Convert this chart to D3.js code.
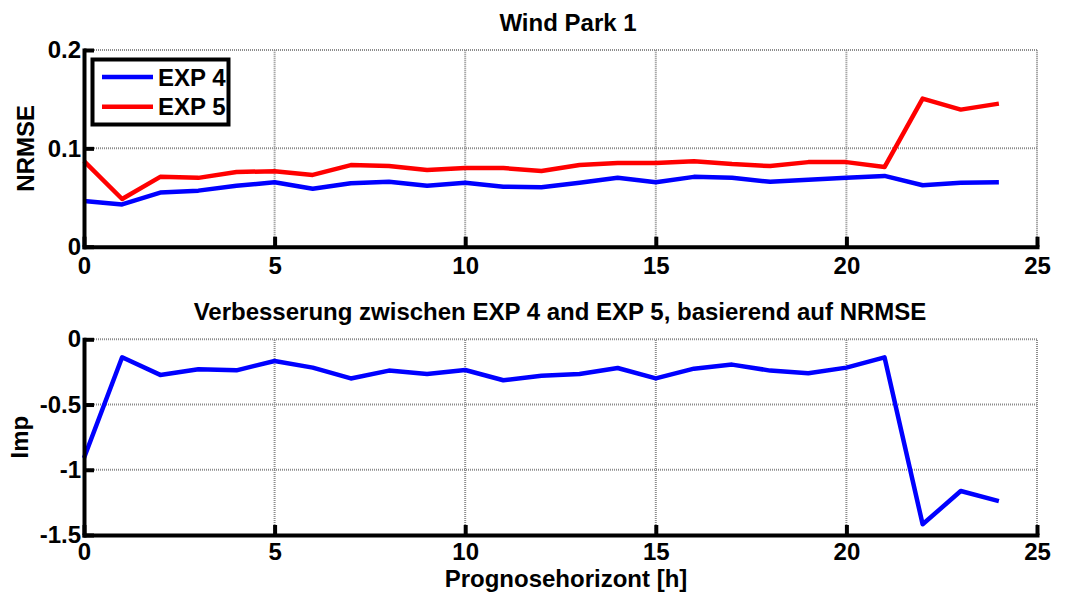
<!DOCTYPE html>
<html>
<head>
<meta charset="utf-8">
<script src="https://cdn.jsdelivr.net/npm/d3@7"></script>
<style>
  html, body { margin: 0; padding: 0; background: #fff; }
  svg { display: block; }
  text { font-family: "Liberation Sans", Arial, sans-serif; font-weight: bold; fill: #000; }
</style>
</head>
<body>
<svg id="chart" width="1070" height="592"></svg>
<script>
// ---- data ----
const hours = [0,1,2,3,4,5,6,7,8,9,10,11,12,13,14,15,16,17,18,19,20,21,22,23,24];
const exp4 = [0.0465,0.043,0.055,0.057,0.062,0.0655,0.059,0.0645,0.066,0.062,0.065,0.061,0.0605,0.065,0.070,0.0655,0.071,0.070,0.066,0.068,0.070,0.072,0.0625,0.065,0.0655];
const exp5 = [0.087,0.0485,0.071,0.070,0.076,0.0767,0.073,0.083,0.082,0.078,0.080,0.080,0.077,0.083,0.085,0.085,0.087,0.084,0.082,0.086,0.086,0.081,0.1506,0.1394,0.1455];
const imp = [-0.91,-0.138,-0.273,-0.23,-0.238,-0.166,-0.217,-0.30,-0.24,-0.266,-0.235,-0.314,-0.28,-0.266,-0.22,-0.30,-0.225,-0.194,-0.24,-0.26,-0.217,-0.138,-1.418,-1.163,-1.24];
const xTicks = [0,5,10,15,20,25];
const xTickLabels = ["0","5","10","15","20","25"];
const yTopTicks = [0,0.1,0.2];
const yTopTickLabels = ["0","0.1","0.2"];
const yBotTicks = [-1.5,-1,-0.5,0];
const yBotTickLabels = ["-1.5","-1","-0.5","0"];
const seriesNames = ["EXP 4","EXP 5"];
const seriesColors = ["#0000ff","#ff0000"];
const titles = ["Wind Park 1","Verbesserung zwischen EXP 4 and EXP 5, basierend auf NRMSE"];
const yLabels = ["NRMSE","Imp"];
const xLabel = "Prognosehorizont [h]";

// ---- layout ----
const svg = d3.select("#chart");
const FS = 24;
const x = d3.scaleLinear().domain([0,25]).range([84,1037]);
const yTop = d3.scaleLinear().domain([0,0.2]).range([246.7,50]);
const yBot = d3.scaleLinear().domain([-1.5,0]).range([535,339.3]);

function panel(y, yTicks, yTickLabels, series, title, titleX, titleY, ylabel, ylabelX, xPad) {
  const g = svg.append("g");
  const [y0, y1] = y.range();
  // grid
  const grid = g.append("g").attr("stroke","#8c8c8c").attr("stroke-width",2).attr("stroke-dasharray","1,1").attr("fill","none");
  xTicks.filter(v => v !== 0).forEach(v => {
    grid.append("line").attr("x1",x(v)).attr("x2",x(v)).attr("y1",y0).attr("y2",y1);
  });
  yTicks.filter(v => v !== y.domain()[0]).forEach(v => {
    grid.append("line").attr("x1",x(0)).attr("x2",x(25)).attr("y1",y(v)).attr("y2",y(v));
  });
  // series
  series.forEach(s => {
    g.append("path")
      .datum(hours.map((h,i) => [h, s.values[i]]))
      .attr("fill","none").attr("stroke",s.color).attr("stroke-width",4.5)
      .attr("stroke-linejoin","round")
      .attr("d", d3.line().x(d => x(d[0])).y(d => y(d[1])));
  });
  // axes
  const xa = g.append("g").attr("transform",`translate(0,${y0})`)
    .call(d3.axisBottom(x).tickValues(xTicks).tickFormat((d,i) => xTickLabels[i]).tickSizeInner(-10).tickSizeOuter(0).tickPadding(xPad));
  const ya = g.append("g").attr("transform",`translate(${x(0)},0)`)
    .call(d3.axisLeft(y).tickValues(yTicks).tickFormat((d,i) => yTickLabels[i]).tickSizeInner(-10).tickSizeOuter(0).tickPadding(3));
  [xa, ya].forEach(a => {
    a.select(".domain").attr("stroke","#000").attr("stroke-width",4).attr("stroke-linecap","square");
    a.selectAll(".tick line").attr("stroke","#000").attr("stroke-width",4);
    a.selectAll("text").attr("font-size",FS).attr("font-family","Liberation Sans, Arial, sans-serif").attr("font-weight","bold").attr("fill","#000");
  });
  // title
  g.append("text").attr("x",titleX).attr("y",titleY).attr("text-anchor","middle").attr("font-size",FS).text(title);
  // y label
  g.append("text").attr("transform",`translate(${ylabelX},${(y0+y1)/2}) rotate(-90)`)
    .attr("text-anchor","middle").attr("font-size",FS).text(ylabel);
  return g;
}

panel(yTop, yTopTicks, yTopTickLabels,
  [{values: exp4, color: seriesColors[0]}, {values: exp5, color: seriesColors[1]}],
  titles[0], 568, 31, yLabels[0], 34, 10);
panel(yBot, yBotTicks, yBotTickLabels,
  [{values: imp, color: seriesColors[0]}],
  titles[1], 560, 320, yLabels[1], 28, 8);

svg.append("text").attr("x",566).attr("y",587).attr("text-anchor","middle").attr("font-size",FS).text(xLabel);

// legend
const lg = svg.append("g");
lg.append("rect").attr("x",92.5).attr("y",59.5).attr("width",136).attr("height",65)
  .attr("fill","#fff").attr("stroke","#000").attr("stroke-width",4);
seriesNames.forEach((n,i) => {
  const ly = 77 + i*29.7;
  lg.append("line").attr("x1",102).attr("x2",153).attr("y1",ly).attr("y2",ly)
    .attr("stroke",seriesColors[i]).attr("stroke-width",4.5);
  lg.append("text").attr("x",158).attr("y",ly+8.5).attr("font-size",FS).text(n);
});
</script>
</body>
</html>
